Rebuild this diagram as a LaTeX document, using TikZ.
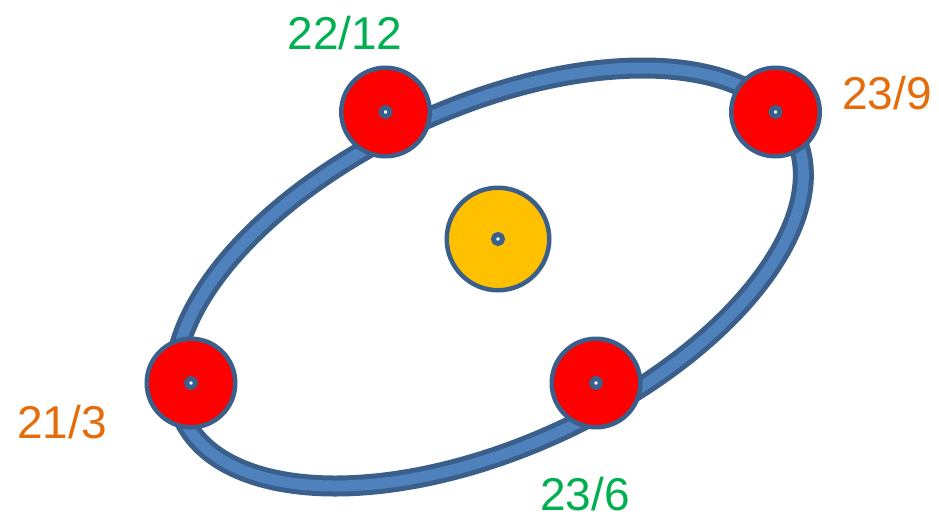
\documentclass[tikz,border=0pt]{standalone}
\usepackage{fontspec}
\setmainfont{Liberation Sans}
\definecolor{orbitdark}{HTML}{3A5F8B}
\definecolor{orbitlight}{HTML}{4F81BD}
\definecolor{planetred}{HTML}{FF0000}
\definecolor{sunyellow}{HTML}{FFC000}
\definecolor{labelgreen}{HTML}{00B050}
\definecolor{labelorange}{HTML}{E46C0A}
\begin{document}
\begin{tikzpicture}[x=1pt,y=-1pt,
  planet/.style={circle, draw=orbitdark, line width=4.5pt, fill=planetred, minimum size=88.5pt, inner sep=0pt},
  sunbody/.style={circle, draw=orbitdark, line width=4.5pt, fill=sunyellow, minimum size=102.5pt, inner sep=0pt},
  centerdot/.style={circle, draw=orbitdark, line width=5pt, fill=white, minimum size=9pt, inner sep=0pt},
  datelabel/.style={inner sep=0pt, font=\fontsize{46}{50}\selectfont},
]
\useasboundingbox (0,0) rectangle (939,520);
\coordinate (orbitc) at (489,277);
% orbit band
\draw[orbitdark, line width=21pt, shift={(orbitc)}, rotate=24.7] (0,0) ellipse [x radius=337pt, y radius=170pt];
\draw[orbitlight, line width=11pt, shift={(orbitc)}, rotate=24.7] (0,0) ellipse [x radius=337pt, y radius=170pt];
% sun
\node[sunbody] (sun) at (498,239) {};
% planets
\node[planet] (p1) at (385.5,112) {};
\node[planet] (p2) at (775.5,112) {};
\node[planet] (p3) at (191,383) {};
\node[planet] (p4) at (596,383) {};
% centre dots
\node[centerdot] (d0) at (sun.center) {};
\node[centerdot] (d1) at (p1.center) {};
\node[centerdot] (d2) at (p2.center) {};
\node[centerdot] (d3) at (p3.center) {};
\node[centerdot] (d4) at (p4.center) {};
% labels
\node[datelabel, text=labelgreen] (l1) at (345,33) {22/12};
\node[datelabel, text=labelorange] (l2) at (887,93) {23/9};
\node[datelabel, text=labelorange] (l3) at (62,422) {21/3};
\node[datelabel, text=labelgreen] (l4) at (585,494) {23/6};
\end{tikzpicture}
\end{document}
